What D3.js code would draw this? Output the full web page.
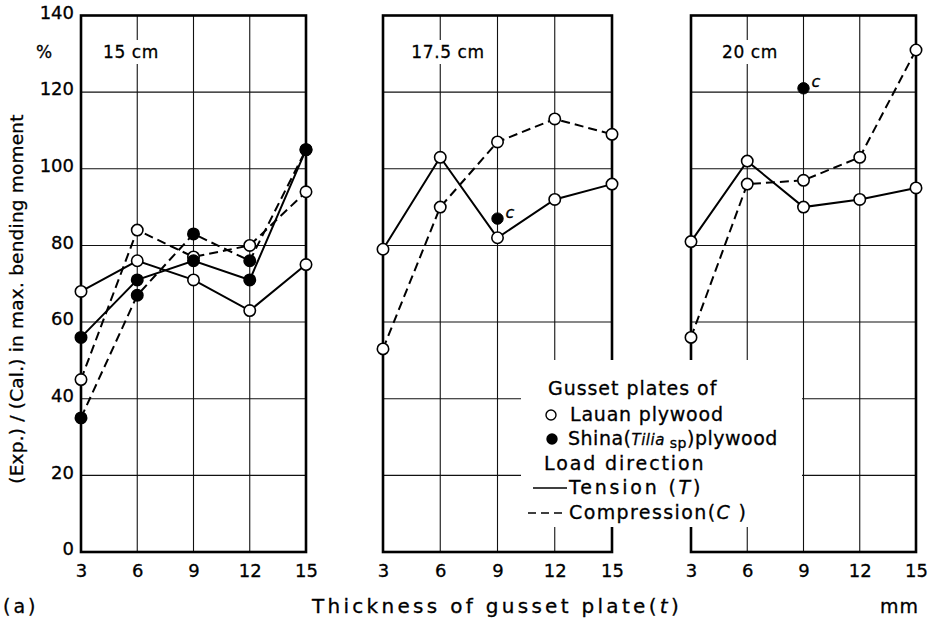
<!DOCTYPE html>
<html><head><meta charset="utf-8">
<script src="https://cdn.jsdelivr.net/npm/d3@7"></script>
<style>
html,body{margin:0;padding:0;background:#fff;}
svg{display:block;font-family:"DejaVu Sans",sans-serif;}
svg text{stroke:#000;stroke-width:0.3;}
</style></head>
<body><svg id="c" width="931" height="621"></svg>
<script>
// ---- data ----
const thickness = [3, 6, 9, 12, 15];
const yTicks = [0, 20, 40, 60, 80, 100, 120, 140];
const spanLabels = ["15 cm", "17.5 cm", "20 cm"];
// 15 cm span
const s15LauanT = [68, 76, 71, 63, 75];
const s15LauanC = [45, 84, 77, 80, 94];
const s15ShinaT = [56, 71, 76, 71, 105];
const s15ShinaC = [35, 67, 83, 76, 105];
// 17.5 cm span
const s175LauanT = [79, 103, 82, 92, 96];
const s175LauanC = [53, 90, 107, 113, 109];
const s175ShinaCpoint = [9, 87];
// 20 cm span
const s20LauanT = [81, 102, 90, 92, 95];
const s20LauanC = [56, 96, 97, 103, 131];
const s20ShinaCpoint = [9, 121];

const panels = [
  {label: spanLabels[0], x0: 81, x1: 306, labelX: 131,
   series: [
     {vals: s15LauanT, filled: false, dash: false},
     {vals: s15LauanC, filled: false, dash: true},
     {vals: s15ShinaT, filled: true, dash: false},
     {vals: s15ShinaC, filled: true, dash: true}], single: null},
  {label: spanLabels[1], x0: 383, x1: 612, labelX: 448,
   series: [
     {vals: s175LauanT, filled: false, dash: false},
     {vals: s175LauanC, filled: false, dash: true}], single: s175ShinaCpoint},
  {label: spanLabels[2], x0: 691, x1: 916, labelX: 750,
   series: [
     {vals: s20LauanT, filled: false, dash: false},
     {vals: s20LauanC, filled: false, dash: true}], single: s20ShinaCpoint}
];

const svg = d3.select("#c");
const y = d3.scaleLinear().domain([0, 140]).range([552, 15.5]);

panels.forEach((p, i) => {
  const x = d3.scaleLinear().domain([3, 15]).range([p.x0, p.x1]);
  const g = svg.append("g");
  // grid
  g.selectAll("line.h").data(yTicks.filter(v => v > 0 && v < 140)).join("line")
    .attr("x1", p.x0).attr("x2", p.x1).attr("y1", d => y(d)).attr("y2", d => y(d))
    .attr("stroke", "#111").attr("stroke-width", 1.1);
  g.selectAll("line.v").data([6, 9, 12]).join("line")
    .attr("x1", d => x(d)).attr("x2", d => x(d)).attr("y1", y(140)).attr("y2", y(0))
    .attr("stroke", "#111").attr("stroke-width", 1.1);
  // frame
  g.append("rect").attr("x", p.x0).attr("y", y(140)).attr("width", p.x1 - p.x0).attr("height", y(0) - y(140))
    .attr("fill", "none").attr("stroke", "#000").attr("stroke-width", 2.6);
  // span label with white background
  const lt = g.append("text").attr("x", p.labelX).attr("y", 58).attr("text-anchor", "middle")
    .attr("font-size", 17).attr("letter-spacing", 0.6).text(p.label);
  const bb = lt.node().getBBox();
  g.insert("rect", "text").attr("x", bb.x - 3).attr("y", bb.y - 2).attr("width", bb.width + 6).attr("height", bb.height + 4).attr("fill", "#fff");
  // x tick labels
  const ax = svg.append("g").attr("transform", `translate(0,${y(0)})`)
    .call(d3.axisBottom(x).tickValues(thickness).tickSize(0).tickPadding(12).tickFormat(d3.format("d")));
  ax.select(".domain").remove();
  ax.selectAll("text").attr("font-size", 18).attr("font-family", "DejaVu Sans").attr("fill", "#000");
  // data lines
  const line = d3.line().x((d, j) => x(thickness[j])).y(d => y(d));
  p.series.forEach(s => {
    g.append("path").attr("d", line(s.vals)).attr("fill", "none").attr("stroke", "#000")
      .attr("stroke-width", 2).attr("stroke-dasharray", s.dash ? "9,5" : null);
  });
  p.series.forEach(s => {
    g.selectAll(null).data(s.vals).join("circle")
      .attr("cx", (d, j) => x(thickness[j])).attr("cy", d => y(d)).attr("r", 5.7)
      .attr("fill", s.filled ? "#000" : "#fff").attr("stroke", "#000").attr("stroke-width", 1.6);
  });
  if (p.single) {
    g.append("circle").attr("cx", x(p.single[0])).attr("cy", y(p.single[1])).attr("r", 5.7)
      .attr("fill", "#000").attr("stroke", "#000");
    g.append("text").attr("x", x(p.single[0]) + 8).attr("y", y(p.single[1]) - 1)
      .attr("font-size", 16).attr("font-style", "italic").text("c");
  }
});

// y axis labels
const ay = svg.append("g").attr("transform", "translate(81,0)")
  .call(d3.axisLeft(y).tickValues(yTicks).tickSize(0).tickPadding(7));
ay.select(".domain").remove();
ay.selectAll("text").attr("font-size", 18).attr("font-family", "DejaVu Sans").attr("fill", "#000").attr("dy", "0.15em");

svg.append("text").attr("x", 44).attr("y", 58).attr("text-anchor", "middle").attr("font-size", 17).text("%");
svg.append("text").attr("transform", "translate(23,299) rotate(-90)").attr("text-anchor", "middle")
  .attr("font-size", 18.5).attr("letter-spacing", 0.2).text("(Exp.) / (Cal.) in max. bending moment");

// bottom texts
svg.append("text").attr("x", 3).attr("y", 613).attr("font-size", 19).attr("letter-spacing", 3).text("(a)");
const xt = svg.append("text").attr("x", 497).attr("y", 613).attr("text-anchor", "middle").attr("font-size", 20).attr("letter-spacing", 3.3);
xt.append("tspan").text("Thickness of gusset plate(");
xt.append("tspan").attr("font-style", "italic").text("t");
xt.append("tspan").text(")");
svg.append("text").attr("x", 880).attr("y", 613).attr("font-size", 19).attr("letter-spacing", 1).text("mm");

// legend
const lg = svg.append("g");
lg.append("rect").attr("x", 521).attr("y", 360).attr("width", 281).attr("height", 167).attr("fill", "#fff");
const fs = 19;
lg.append("text").attr("x", 548).attr("y", 395).attr("font-size", fs).attr("letter-spacing", 0.95).text("Gusset plates of");
lg.append("circle").attr("cx", 551).attr("cy", 415).attr("r", 5).attr("fill", "#fff").attr("stroke", "#000").attr("stroke-width", 1.4);
lg.append("text").attr("x", 570).attr("y", 421).attr("font-size", fs).attr("letter-spacing", 0.8).text("Lauan plywood");
lg.append("circle").attr("cx", 552).attr("cy", 439).attr("r", 5.7).attr("fill", "#000");
const sh = lg.append("text").attr("x", 568).attr("y", 445).attr("font-size", fs).attr("letter-spacing", 0.5);
sh.append("tspan").text("Shina(");
sh.append("tspan").attr("font-style", "italic").attr("font-size", 15).text("Tilia");
sh.append("tspan").attr("font-size", 14).attr("dy", 3).text(" sp");
sh.append("tspan").attr("dy", -3).text(")plywood");
lg.append("text").attr("x", 544).attr("y", 470).attr("font-size", fs).attr("letter-spacing", 1.9).text("Load direction");
lg.append("line").attr("x1", 533).attr("x2", 567).attr("y1", 488).attr("y2", 488).attr("stroke", "#000").attr("stroke-width", 1.6);
const tt = lg.append("text").attr("x", 569).attr("y", 494).attr("font-size", fs).attr("letter-spacing", 2.8);
tt.append("tspan").text("Tension (");
tt.append("tspan").attr("font-style", "italic").text("T");
tt.append("tspan").text(")");
lg.append("line").attr("x1", 528).attr("x2", 567).attr("y1", 513).attr("y2", 513).attr("stroke", "#000").attr("stroke-width", 1.6).attr("stroke-dasharray", "8,5");
const ct = lg.append("text").attr("x", 569).attr("y", 519).attr("font-size", fs).attr("letter-spacing", 1.4);
ct.append("tspan").text("Compression(");
ct.append("tspan").attr("font-style", "italic").text("C");
ct.append("tspan").text(" )");
</script></body></html>
